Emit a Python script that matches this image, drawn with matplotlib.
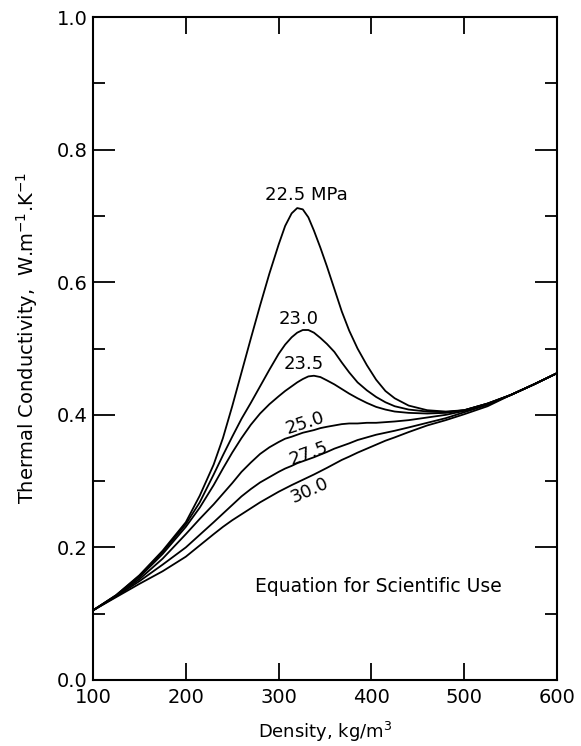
import matplotlib
matplotlib.use("Agg")
import matplotlib.pyplot as plt
from matplotlib.ticker import MultipleLocator

# density grid, kg/m3
density = [100, 125, 150, 175, 200, 215, 230, 240, 250, 260, 270, 280, 290, 300, 307,
           314, 320, 326, 332, 338, 345, 352, 360, 368, 376, 385, 395, 405, 415, 425,
           440, 460, 480, 500, 525, 550, 575, 600]

# thermal conductivity, W/(m.K)
tc_225 = [0.105, 0.128, 0.158, 0.195, 0.238, 0.278, 0.325, 0.365, 0.413, 0.464, 0.515,
          0.565, 0.613, 0.657, 0.685, 0.704, 0.712, 0.710, 0.698, 0.678, 0.652, 0.624,
          0.590, 0.556, 0.527, 0.500, 0.475, 0.453, 0.436, 0.425, 0.414, 0.407, 0.405,
          0.407, 0.417, 0.430, 0.446, 0.463]
tc_230 = [0.105, 0.128, 0.157, 0.193, 0.235, 0.268, 0.310, 0.339, 0.367, 0.394, 0.418,
          0.443, 0.468, 0.492, 0.506, 0.517, 0.524, 0.528, 0.528, 0.524, 0.516, 0.507,
          0.495, 0.479, 0.464, 0.449, 0.437, 0.427, 0.419, 0.413, 0.408, 0.405, 0.404,
          0.407, 0.417, 0.430, 0.446, 0.463]
tc_235 = [0.105, 0.127, 0.155, 0.190, 0.231, 0.260, 0.294, 0.319, 0.343, 0.365, 0.385,
          0.402, 0.416, 0.428, 0.436, 0.443, 0.449, 0.454, 0.458, 0.459, 0.457, 0.452,
          0.446, 0.439, 0.432, 0.425, 0.418, 0.412, 0.408, 0.405, 0.403, 0.402, 0.403,
          0.407, 0.417, 0.430, 0.446, 0.463]
tc_250 = [0.105, 0.127, 0.152, 0.183, 0.220, 0.243, 0.265, 0.281, 0.297, 0.314, 0.328,
          0.341, 0.351, 0.359, 0.364, 0.367, 0.370, 0.373, 0.375, 0.377, 0.380, 0.382,
          0.384, 0.386, 0.387, 0.387, 0.388, 0.388, 0.389, 0.390, 0.392, 0.396, 0.400,
          0.406, 0.416, 0.430, 0.446, 0.463]
tc_275 = [0.105, 0.126, 0.149, 0.174, 0.200, 0.219, 0.238, 0.251, 0.264, 0.277, 0.288,
          0.298, 0.306, 0.314, 0.319, 0.323, 0.327, 0.330, 0.333, 0.336, 0.340, 0.344,
          0.349, 0.353, 0.357, 0.362, 0.366, 0.370, 0.373, 0.376, 0.381, 0.388, 0.395,
          0.404, 0.415, 0.430, 0.446, 0.463]
tc_300 = [0.105, 0.125, 0.145, 0.164, 0.186, 0.203, 0.220, 0.231, 0.241, 0.250, 0.259,
          0.268, 0.276, 0.284, 0.289, 0.294, 0.298, 0.302, 0.306, 0.310, 0.315, 0.320,
          0.326, 0.332, 0.337, 0.343, 0.349, 0.355, 0.361, 0.366, 0.374, 0.384, 0.392,
          0.401, 0.413, 0.430, 0.446, 0.463]

curves = [tc_225, tc_230, tc_235, tc_250, tc_275, tc_300]
labels = ["22.5 MPa", "23.0", "23.5", "25.0", "27.5", "30.0"]
label_x = [330, 322, 327, 328, 332, 334]
label_y = [0.731, 0.545, 0.476, 0.388, 0.342, 0.286]
label_rot = [0, 0, 0, 18, 20, 24]

fig = plt.figure(figsize=(5.81, 7.46), dpi=100)
ax = fig.add_axes([0.160, 0.0885, 0.799, 0.8885])

for tc in curves:
    ax.plot(density, tc, color="black", lw=1.3)

for txt, lx, ly, rot in zip(labels, label_x, label_y, label_rot):
    ax.text(lx, ly, txt, fontsize=13, ha="center", va="center", rotation=rot)

ax.text(407, 0.141, "Equation for Scientific Use", fontsize=13.5, ha="center", va="center")

ax.set_xlim(100, 600)
ax.set_ylim(0, 1.0)
ax.xaxis.set_major_locator(MultipleLocator(100))
ax.yaxis.set_major_locator(MultipleLocator(0.2))
ax.yaxis.set_minor_locator(MultipleLocator(0.1))
ax.yaxis.set_major_formatter(plt.FuncFormatter(lambda v, _: f"{v:.1f}"))

ax.tick_params(axis="x", which="major", direction="in", length=12, width=1.3,
               top=True, labelsize=14, pad=6)
ax.tick_params(axis="y", which="major", direction="in", length=16, width=1.3,
               right=True, labelsize=14, pad=4)
ax.tick_params(axis="y", which="minor", direction="in", length=8.5, width=1.3, right=True)

for sp in ax.spines.values():
    sp.set_linewidth(1.5)

ax.set_xlabel("Density, kg/m$^3$", fontsize=13, labelpad=9)
fig.text(0.046, 0.547, "Thermal Conductivity,  W.m$^{-1}$.K$^{-1}$", fontsize=14,
         rotation=90, ha="center", va="center")

fig.savefig("out.png", dpi=100)
